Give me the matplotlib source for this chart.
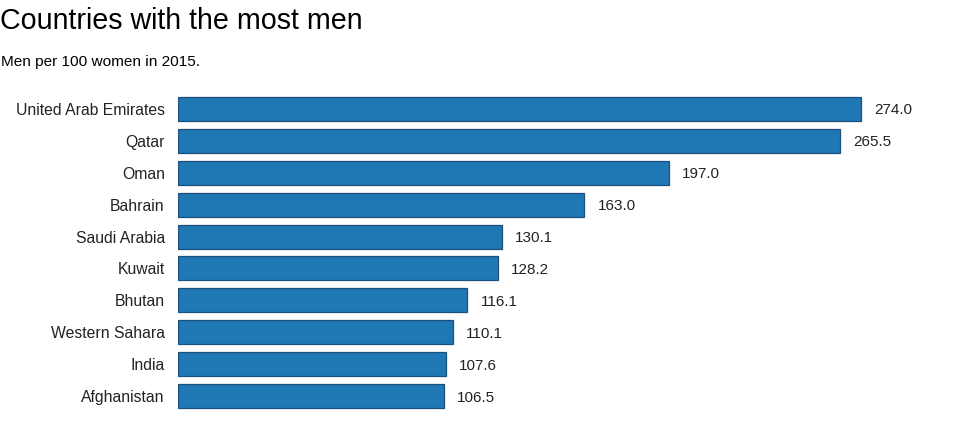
import matplotlib
matplotlib.use("Agg")
import matplotlib.pyplot as plt

plt.rcParams['font.family'] = ['Liberation Sans', 'DejaVu Sans']

countries = ['United Arab Emirates', 'Qatar', 'Oman', 'Bahrain', 'Saudi Arabia',
             'Kuwait', 'Bhutan', 'Western Sahara', 'India', 'Afghanistan']
men_per_100 = [274.0, 265.5, 197.0, 163.0, 130.1, 128.2, 116.1, 110.1, 107.6, 106.5]

fig = plt.figure(figsize=(9.8, 4.32), dpi=100)
ax = fig.add_axes([178 / 980, 20 / 432, 748 / 980, 319 / 432])

pos = list(range(len(countries)))
ax.barh(pos, men_per_100, height=0.75, color='#1f77b4', edgecolor='#1b4f7c', linewidth=0.9)
for p, v in zip(pos, men_per_100):
    ax.text(v + 5.2, p, '%.1f' % v, va='center_baseline', ha='left', fontsize=11, color='#222222')

ax.set_xlim(0, 300)
ax.set_ylim(9.5, -0.5)
ax.set_yticks(pos)
ax.set_yticklabels(countries, fontsize=11.3, color='#222222')
ax.tick_params(axis='y', length=0, pad=9.5)
ax.set_xticks([])
for s in ax.spines.values():
    s.set_visible(False)

fig.text(0.0, 1 - 29 / 432, 'Countries with the most men', fontsize=20.6, ha='left', va='baseline')
fig.text(0.001, 1 - 66 / 432, 'Men per 100 women in 2015.', fontsize=11.1, ha='left', va='baseline')

fig.savefig('out.png', dpi=100)
